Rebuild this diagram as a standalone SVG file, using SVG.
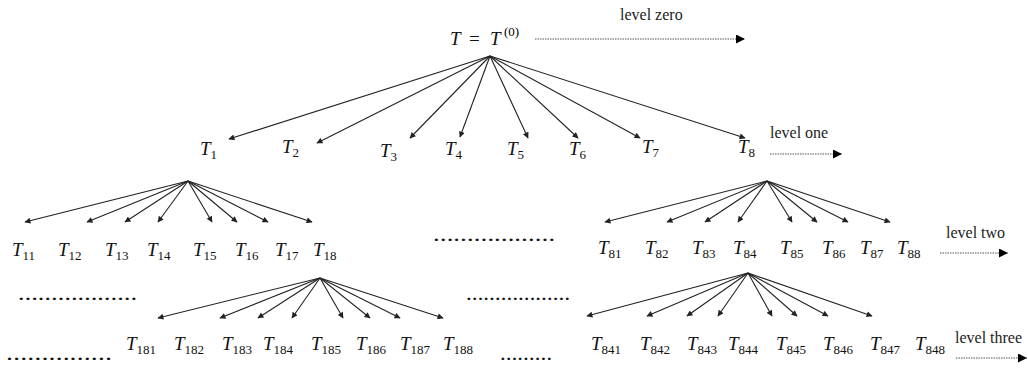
<svg xmlns="http://www.w3.org/2000/svg" width="1028" height="373" viewBox="0 0 1028 373">
<style>
.t{font-family:"Liberation Serif",serif;font-style:italic;font-size:19px;fill:#111}
.s{font-family:"Liberation Serif",serif;font-style:normal;font-size:13px}
.n{font-family:"Liberation Serif",serif;font-size:19px;fill:#111}
.lv{font-family:"Liberation Serif",serif;font-size:16px;fill:#222}
.d{font-family:"Liberation Serif",serif;font-size:15px;font-weight:bold;fill:#111}
.e line{stroke:#222;stroke-width:1.1;marker-end:url(#ah)}
.lvl{stroke:#555;stroke-width:1.2;stroke-dasharray:1.5 1;marker-end:url(#big)}
</style>
<defs>
<marker id="ah" viewBox="0 0 10 10" refX="9" refY="5" markerWidth="8" markerHeight="6" markerUnits="userSpaceOnUse" orient="auto"><path d="M0,0 L10,5 L0,10 Z" fill="#222"/></marker>
<marker id="big" viewBox="0 0 10 10" refX="10" refY="5" markerWidth="11" markerHeight="9" markerUnits="userSpaceOnUse" orient="auto"><path d="M0,0 L10,5 L0,10 Z" fill="#000"/></marker>
</defs>
<g id="connectors">
<g class="e">
<line x1="490" y1="56" x2="229" y2="139"/><line x1="490" y1="56" x2="317" y2="143"/><line x1="490" y1="56" x2="410" y2="138"/><line x1="490" y1="56" x2="460" y2="137"/><line x1="490" y1="56" x2="528" y2="138"/><line x1="490" y1="56" x2="578" y2="138"/><line x1="490" y1="56" x2="640" y2="138"/><line x1="490" y1="56" x2="745" y2="138"/>
<line x1="188" y1="181" x2="25" y2="222"/><line x1="188" y1="181" x2="87" y2="222"/><line x1="188" y1="181" x2="125" y2="222"/><line x1="188" y1="181" x2="158" y2="222"/><line x1="188" y1="181" x2="212" y2="222"/><line x1="188" y1="181" x2="237" y2="222"/><line x1="188" y1="181" x2="268" y2="222"/><line x1="188" y1="181" x2="312" y2="222"/>
<line x1="767" y1="181" x2="605" y2="222"/><line x1="767" y1="181" x2="667" y2="222"/><line x1="767" y1="181" x2="705" y2="222"/><line x1="767" y1="181" x2="738" y2="222"/><line x1="767" y1="181" x2="792" y2="222"/><line x1="767" y1="181" x2="817" y2="222"/><line x1="767" y1="181" x2="848" y2="222"/><line x1="767" y1="181" x2="890" y2="222"/>
<line x1="320" y1="278" x2="158" y2="318"/><line x1="320" y1="278" x2="220" y2="318"/><line x1="320" y1="278" x2="258" y2="318"/><line x1="320" y1="278" x2="292" y2="318"/><line x1="320" y1="278" x2="343" y2="318"/><line x1="320" y1="278" x2="370" y2="318"/><line x1="320" y1="278" x2="400" y2="318"/><line x1="320" y1="278" x2="443" y2="318"/>
<line x1="748" y1="273" x2="587" y2="316"/><line x1="748" y1="273" x2="647" y2="316"/><line x1="748" y1="273" x2="687" y2="316"/><line x1="748" y1="273" x2="718" y2="316"/><line x1="748" y1="273" x2="772" y2="316"/><line x1="748" y1="273" x2="797" y2="316"/><line x1="748" y1="273" x2="828" y2="316"/><line x1="748" y1="273" x2="872" y2="316"/>
</g>
<line class="lvl" x1="535" y1="39" x2="745" y2="39"/>
<line class="lvl" x1="770" y1="154" x2="842" y2="154"/>
<line class="lvl" x1="940" y1="253" x2="1008" y2="253"/>
<line class="lvl" x1="956" y1="358" x2="1027" y2="358"/>
</g>
<g id="root">
<text class="t" x="450" y="45">T</text><text class="n" x="469" y="45">=</text><text class="t" x="490" y="45">T</text><text class="s" x="504" y="36" font-size="14">(0)</text>
</g>
<g id="level-labels">
<text class="lv" x="620" y="20">level zero</text>
<text class="lv" x="770" y="138">level one</text>
<text class="lv" x="946" y="238">level two</text>
<text class="lv" x="955" y="343">level three</text>
</g>
<g id="level1">
<text class="t" x="200" y="155">T<tspan class="s" dy="4">1</tspan></text>
<text class="t" x="282" y="153">T<tspan class="s" dy="4">2</tspan></text>
<text class="t" x="380" y="157">T<tspan class="s" dy="4">3</tspan></text>
<text class="t" x="445" y="155">T<tspan class="s" dy="4">4</tspan></text>
<text class="t" x="507" y="155">T<tspan class="s" dy="4">5</tspan></text>
<text class="t" x="569" y="155">T<tspan class="s" dy="4">6</tspan></text>
<text class="t" x="642" y="153">T<tspan class="s" dy="4">7</tspan></text>
<text class="t" x="738" y="153">T<tspan class="s" dy="4">8</tspan></text>
</g>
<g id="level2-T1">
<text class="t" x="12" y="256">T<tspan class="s" dy="4">11</tspan></text>
<text class="t" x="58" y="256">T<tspan class="s" dy="4">12</tspan></text>
<text class="t" x="105" y="256">T<tspan class="s" dy="4">13</tspan></text>
<text class="t" x="147" y="256">T<tspan class="s" dy="4">14</tspan></text>
<text class="t" x="193" y="256">T<tspan class="s" dy="4">15</tspan></text>
<text class="t" x="235" y="256">T<tspan class="s" dy="4">16</tspan></text>
<text class="t" x="275" y="256">T<tspan class="s" dy="4">17</tspan></text>
<text class="t" x="313" y="256">T<tspan class="s" dy="4">18</tspan></text>
</g>
<g id="level2-T8">
<text class="t" x="598" y="254">T<tspan class="s" dy="4">81</tspan></text>
<text class="t" x="645" y="254">T<tspan class="s" dy="4">82</tspan></text>
<text class="t" x="692" y="254">T<tspan class="s" dy="4">83</tspan></text>
<text class="t" x="733" y="254">T<tspan class="s" dy="4">84</tspan></text>
<text class="t" x="780" y="254">T<tspan class="s" dy="4">85</tspan></text>
<text class="t" x="822" y="254">T<tspan class="s" dy="4">86</tspan></text>
<text class="t" x="860" y="254">T<tspan class="s" dy="4">87</tspan></text>
<text class="t" x="897" y="254">T<tspan class="s" dy="4">88</tspan></text>
</g>
<g id="level3-T18">
<text class="t" x="126" y="350">T<tspan class="s" dy="4">181</tspan></text>
<text class="t" x="174" y="350">T<tspan class="s" dy="4">182</tspan></text>
<text class="t" x="222" y="350">T<tspan class="s" dy="4">183</tspan></text>
<text class="t" x="263" y="350">T<tspan class="s" dy="4">184</tspan></text>
<text class="t" x="311" y="350">T<tspan class="s" dy="4">185</tspan></text>
<text class="t" x="356" y="350">T<tspan class="s" dy="4">186</tspan></text>
<text class="t" x="400" y="350">T<tspan class="s" dy="4">187</tspan></text>
<text class="t" x="443" y="350">T<tspan class="s" dy="4">188</tspan></text>
</g>
<g id="level3-T84">
<text class="t" x="591" y="350">T<tspan class="s" dy="4">841</tspan></text>
<text class="t" x="640" y="350">T<tspan class="s" dy="4">842</tspan></text>
<text class="t" x="687" y="350">T<tspan class="s" dy="4">843</tspan></text>
<text class="t" x="728" y="350">T<tspan class="s" dy="4">844</tspan></text>
<text class="t" x="776" y="350">T<tspan class="s" dy="4">845</tspan></text>
<text class="t" x="823" y="350">T<tspan class="s" dy="4">846</tspan></text>
<text class="t" x="870" y="350">T<tspan class="s" dy="4">847</tspan></text>
<text class="t" x="915" y="350">T<tspan class="s" dy="4">848</tspan></text>
</g>
<g id="ellipses">
<text class="d" x="433" y="241" textLength="122" lengthAdjust="spacingAndGlyphs">………………</text>
<text class="d" x="18" y="300" textLength="119" lengthAdjust="spacingAndGlyphs">………………</text>
<text class="d" x="466" y="300" textLength="104" lengthAdjust="spacingAndGlyphs">………………</text>
<text class="d" x="6" y="360" textLength="106" lengthAdjust="spacingAndGlyphs">……………</text>
<text class="d" x="500" y="360" textLength="52" lengthAdjust="spacingAndGlyphs">………</text>
</g>
</svg>
